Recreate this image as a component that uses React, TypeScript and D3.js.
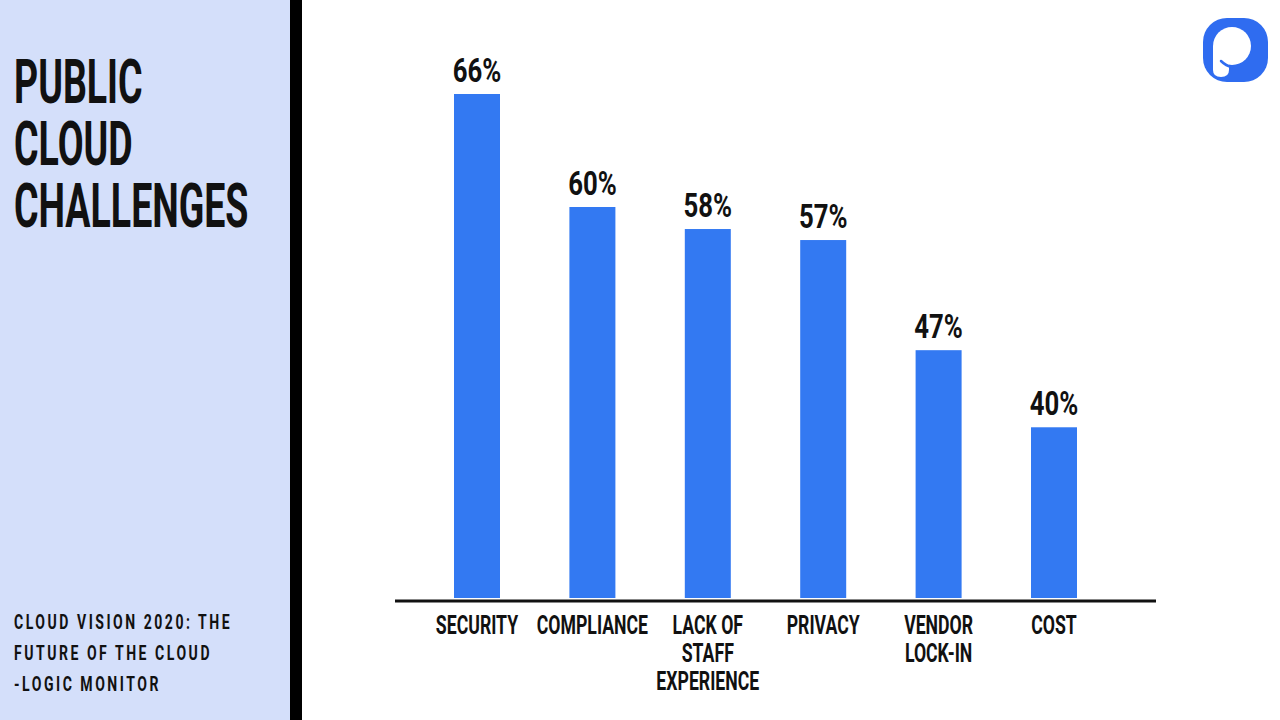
import React from 'react';
import * as d3 from 'd3';

const categories = ['SECURITY', 'COMPLIANCE', 'LACK OF|STAFF|EXPERIENCE', 'PRIVACY', 'VENDOR|LOCK-IN', 'COST'];
const values = [66, 60, 58, 57, 47, 40];
const titleLines = ['PUBLIC', 'CLOUD', 'CHALLENGES'];
const sourceLines = ['CLOUD VISION 2020: THE', 'FUTURE OF THE CLOUD', '-LOGIC MONITOR'];

const W = 1280;
const H = 720;
const BASE = 598;
const FONT = 'Roboto, "DejaVu Sans", sans-serif';
const BLUE = '#3379f2';

const App: React.FC = () => {
  // bars are not drawn strictly to proportion in the original; keep a piecewise scale
  const y = d3.scaleLinear().domain([24.5, 60, 66]).range([BASE, 207, 94]);
  const x = d3.scalePoint<string>().domain(categories).range([477, 1054]);
  const barW = 46;

  return (
    <svg width={W} height={H} style={{ position: 'fixed', left: 0, top: 0, background: '#fff' }}>
      {/* left panel */}
      <rect x={0} y={0} width={290} height={H} fill="#d4dffa" />
      <rect x={290} y={0} width={12} height={H} fill="#000" />

      {titleLines.map((t, i) => (
        <g key={t} transform={`translate(14, ${103 + i * 62}) scale(0.615, 1)`}>
          <text x={0} y={0} fontFamily={FONT} fontWeight={700} fontSize={61} fill="#111">
            {t}
          </text>
        </g>
      ))}

      {sourceLines.map((t, i) => (
        <g key={t} transform={`translate(14, ${629 + i * 31}) scale(0.72, 1)`}>
          <text x={0} y={0} fontFamily={FONT} fontWeight={700} fontSize={19.5} letterSpacing={3.5} fill="#111">
            {t}
          </text>
        </g>
      ))}

      {/* bars */}
      {categories.map((c, i) => {
        const cx = x(c) as number;
        const top = y(values[i]);
        return (
          <g key={c}>
            <rect x={cx - barW / 2} y={top} width={barW} height={BASE - top} fill={BLUE} />
            <g transform={`translate(${cx}, ${top - 12}) scale(0.78, 1)`}>
              <text textAnchor="middle" fontFamily={FONT} fontWeight={700} fontSize={33} fill="#111">
                {values[i]}%
              </text>
            </g>
            {c.split('|').map((line, j) => (
              <g key={line} transform={`translate(${cx}, ${634 + j * 28}) scale(0.68, 1)`}>
                <text textAnchor="middle" fontFamily={FONT} fontWeight={700} fontSize={26} fill="#111">
                  {line}
                </text>
              </g>
            ))}
          </g>
        );
      })}

      {/* baseline */}
      <line x1={395} x2={1156} y1={BASE + 3} y2={BASE + 3} stroke="#111" strokeWidth={3} />

      {/* logo */}
      <rect x={1203} y={18} width={65} height={64} rx={24} fill="#2f6cf0" />
      <circle cx={1232} cy={46} r={19} fill="#fff" />
      <path d="M1213,46 L1229,46 L1229,70 Q1229,77 1221,77 Q1213,77 1213,70 Z" fill="#fff" />
      <path d="M1221,61 Q1226,66 1232,67" fill="none" stroke="#2f6cf0" strokeWidth={2.5} strokeLinecap="round" />
    </svg>
  );
};

export default App;
